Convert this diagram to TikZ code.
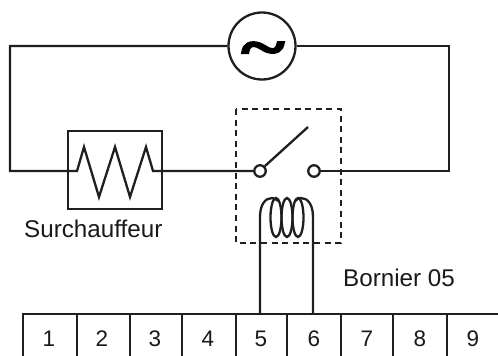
\documentclass[tikz,border=0pt]{standalone}
\usepackage{fontspec}
\setmainfont{Liberation Sans}
\newfontfamily\tildefont[FakeBold=3]{Liberation Serif Bold}
\tikzset{
  wire/.style={line width=2.3pt,draw=black!88,line join=miter},
  term/.style={circle,draw=black!88,line width=2.3pt,fill=white,minimum size=11.5pt,inner sep=0pt},
  lab/.style={font=\fontsize{24.2}{27}\selectfont,text=black!90,inner sep=0pt},
  num/.style={font=\fontsize{22.5}{26}\selectfont,text=black!90,inner sep=0pt}
}
\begin{document}
\begin{tikzpicture}[x=1pt,y=-1pt]
\useasboundingbox[fill=white] (0,0) rectangle (498,356);
% terminal strip
\begin{scope}
\clip (0,0) rectangle (498,356);
\foreach \n/\a/\c in {1/23/49,2/77/102,3/130/155,4/182/208,5/236/261,6/287/314,7/341/367,8/393/420,9/447/473}{
  \draw[wire] (\a,314) -- (\a,360);
  \node[num] (c\n) at (\c,339) {\n};
}
\draw[wire] (22,314) -- (500,314);
\end{scope}
\coordinate (s5) at (260,314);
\coordinate (s6) at (313,314);
% source
\node[circle,draw=black!88,line width=2.3pt,minimum size=67pt,inner sep=0pt,fill=white] (src) at (262,46) {};
\node[inner sep=0pt] (tilde) at (263,54.5) {\scalebox{1}[0.72]{\fontsize{82}{82}\tildefont\char"007E}};
% heater
\draw[wire] (68,131) rectangle (162,209);
\coordinate (wl) at (10,171);
\coordinate (wr) at (449,171);
% relay
\node[term] (t1) at (260,171) {};
\node[term] (t2) at (314,171) {};
\draw[wire] (src.west) -- (10,46) -- (wl) -- (77,171) -- (84,147) -- (99,197) -- (115,147) -- (130,197) -- (146,147) -- (153,171) -- (t1.west);
\draw[wire] (src.east) -- (449,46) -- (wr) -- (t2.east);
\draw[wire] (t1.45) -- (308,127);
\draw[line width=2.4pt,draw=black!88,dash pattern=on 6pt off 4.6pt] (236,109) rectangle (341,243);
% coil
\draw[wire] (s5) -- (260,217) .. controls (260,205) and (265,198) .. (272,198)
  .. controls (274,198) and (276,199) .. (278,201);
\draw[wire] (s6) -- (313,217) .. controls (313,205) and (308,198) .. (301,198)
  .. controls (299,198) and (297,199) .. (295,201);
\foreach \x/\n in {276/a,287/b,298/c}
  \draw[wire] (\x,217.5) ellipse[x radius=5.5pt,y radius=19.5pt];
\node[lab,anchor=west] (sur) at (24,229) {Surchauffeur};
\node[lab,anchor=west] (bor) at (343,278) {Bornier 05};
\end{tikzpicture}
\end{document}
